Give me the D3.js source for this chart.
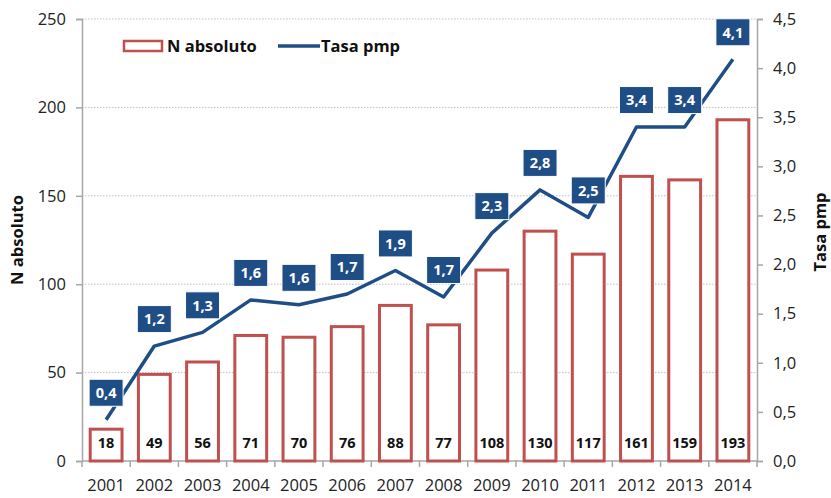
<!DOCTYPE html>
<html>
<head>
<meta charset="utf-8">
<script src="https://cdn.jsdelivr.net/npm/d3@7"></script>
<style>
  body { margin: 0; background: #fff; }
  text { font-family: "Open Sans", sans-serif; }
</style>
</head>
<body>
<div id="chart"></div>
<script>
// Data
var years = ["2001","2002","2003","2004","2005","2006","2007","2008","2009","2010","2011","2012","2013","2014"];
var nAbsoluto = [18, 49, 56, 71, 70, 76, 88, 77, 108, 130, 117, 161, 159, 193];
var tasaPmp = [0.42, 1.17, 1.31, 1.64, 1.59, 1.70, 1.94, 1.67, 2.32, 2.76, 2.48, 3.40, 3.40, 4.09];
var tasaLabels = ["0,4","1,2","1,3","1,6","1,6","1,7","1,9","1,7","2,3","2,8","2,5","3,4","3,4","4,1"];
var leftTicks = [0, 50, 100, 150, 200, 250];
var rightTicks = [0, 0.5, 1, 1.5, 2, 2.5, 3, 3.5, 4, 4.5];

// Chart area
var svgWidth = 831;
var svgHeight = 498;
var margin = { top: 19, right: 74, bottom: 37, left: 82 };
var chartWidth = svgWidth - margin.left - margin.right;
var chartHeight = svgHeight - margin.top - margin.bottom;

var svg = d3.select("#chart").append("svg")
  .attr("width", svgWidth)
  .attr("height", svgHeight);

var g = svg.append("g")
  .attr("transform", `translate(${margin.left}, ${margin.top})`);

// Scales
var x = d3.scaleBand().domain(years).range([0, chartWidth]).paddingInner(0.34).paddingOuter(0.17);
var xOuter = d3.scaleBand().domain(years).range([0, chartWidth]);
var yLeft = d3.scaleLinear().domain([0, 250]).range([chartHeight, 0]);
var yRight = d3.scaleLinear().domain([0, 4.5]).range([chartHeight, 0]);

var axisColor = "#a6a6a6";
var lineColor = "#1f4e87";
var barColor = "#c0504d";
var fmt = d3.format(".1f");

// Gridlines
g.selectAll(".grid")
  .data(leftTicks.filter(function(d) { return d > 0; }))
  .enter().append("line")
  .attr("x1", 0).attr("x2", chartWidth)
  .attr("y1", function(d) { return yLeft(d); })
  .attr("y2", function(d) { return yLeft(d); })
  .attr("stroke", "#bfbfbf")
  .attr("stroke-width", 1)
  .attr("stroke-dasharray", "1.5,1.5");

// Axes
var leftAxis = d3.axisLeft(yLeft).tickValues(leftTicks).tickSize(6).tickPadding(10);
var rightAxis = d3.axisRight(yRight).tickValues(rightTicks).tickSize(6).tickPadding(10)
  .tickFormat(function(d) { return fmt(d).replace(".", ","); });

var gl = g.append("g").call(leftAxis);
var gr = g.append("g").attr("transform", `translate(${chartWidth},0)`).call(rightAxis);
[gl, gr].forEach(function(a) {
  a.select(".domain").attr("stroke", axisColor).attr("stroke-width", 1.5);
  a.selectAll(".tick line").attr("stroke", axisColor).attr("stroke-width", 1.5);
  a.selectAll(".tick text").attr("fill", "#222").style("font-size", "16.5px").style("font-family", "Open Sans, sans-serif");
});

// Bottom axis: ticks between categories
var gb = g.append("g").attr("transform", `translate(0,${chartHeight})`);
gb.append("line").attr("x1", 0).attr("x2", chartWidth).attr("stroke", axisColor).attr("stroke-width", 1.5);
gb.selectAll(".bt")
  .data(d3.range(years.length + 1))
  .enter().append("line")
  .attr("x1", function(i) { return i * xOuter.bandwidth(); })
  .attr("x2", function(i) { return i * xOuter.bandwidth(); })
  .attr("y1", 0).attr("y2", 6)
  .attr("stroke", axisColor).attr("stroke-width", 1.5);
gb.selectAll(".xl")
  .data(years)
  .enter().append("text")
  .attr("x", function(d) { return xOuter(d) + xOuter.bandwidth() / 2; })
  .attr("y", 30)
  .attr("text-anchor", "middle")
  .attr("fill", "#222")
  .style("font-size", "16.5px")
  .text(function(d) { return d; });

// Bars
g.selectAll(".bar")
  .data(nAbsoluto)
  .enter().append("rect")
  .attr("x", function(d, i) { return x(years[i]); })
  .attr("y", function(d) { return yLeft(d); })
  .attr("width", x.bandwidth())
  .attr("height", function(d) { return chartHeight - yLeft(d); })
  .attr("fill", "#fff")
  .attr("stroke", barColor)
  .attr("stroke-width", 3);

// Bar labels
g.selectAll(".blabel")
  .data(nAbsoluto)
  .enter().append("text")
  .attr("x", function(d, i) { return x(years[i]) + x.bandwidth() / 2; })
  .attr("y", chartHeight - 13)
  .attr("text-anchor", "middle")
  .attr("fill", "#111")
  .style("font-size", "14.5px")
  .style("font-weight", "bold")
  .text(function(d) { return d; });

// Line
var line = d3.line()
  .x(function(d, i) { return xOuter(years[i]) + xOuter.bandwidth() / 2; })
  .y(function(d) { return yRight(d); });

g.append("path")
  .datum(tasaPmp)
  .attr("fill", "none")
  .attr("stroke", lineColor)
  .attr("stroke-width", 3.5)
  .attr("stroke-linejoin", "round")
  .attr("d", line);

// Line labels
var lab = g.selectAll(".llabel")
  .data(tasaPmp)
  .enter().append("g")
  .attr("transform", function(d, i) {
    return `translate(${xOuter(years[i]) + xOuter.bandwidth() / 2}, ${yRight(d) - 27})`;
  });
lab.append("rect")
  .attr("x", -17).attr("y", -13.5)
  .attr("width", 34).attr("height", 27)
  .attr("fill", lineColor)
  .attr("stroke", "#fff")
  .attr("stroke-width", 1);
lab.append("text")
  .attr("text-anchor", "middle")
  .attr("dy", "0.36em")
  .attr("fill", "#fff")
  .style("font-size", "14.5px")
  .style("font-weight", "bold")
  .text(function(d, i) { return tasaLabels[i]; });

// Axis titles
svg.append("text")
  .attr("transform", "translate(23,240) rotate(-90)")
  .attr("text-anchor", "middle")
  .attr("fill", "#111")
  .style("font-size", "16.5px")
  .style("font-weight", "bold")
  .text("N absoluto");

svg.append("text")
  .attr("transform", "translate(826,232) rotate(-90)")
  .attr("text-anchor", "middle")
  .attr("fill", "#111")
  .style("font-size", "16.5px")
  .style("font-weight", "bold")
  .text("Tasa pmp");

// Legend
var legend = svg.append("g");
legend.append("rect")
  .attr("x", 124).attr("y", 41)
  .attr("width", 38).attr("height", 10)
  .attr("fill", "#fff")
  .attr("stroke", barColor)
  .attr("stroke-width", 2.5);
legend.append("text")
  .attr("x", 167).attr("y", 52)
  .attr("fill", "#111")
  .style("font-size", "16.5px")
  .style("font-weight", "bold")
  .text("N absoluto");
legend.append("line")
  .attr("x1", 278).attr("x2", 320)
  .attr("y1", 46).attr("y2", 46)
  .attr("stroke", lineColor)
  .attr("stroke-width", 3.5);
legend.append("text")
  .attr("x", 321).attr("y", 52)
  .attr("fill", "#111")
  .style("font-size", "16.5px")
  .style("font-weight", "bold")
  .text("Tasa pmp");
</script>
</body>
</html>
